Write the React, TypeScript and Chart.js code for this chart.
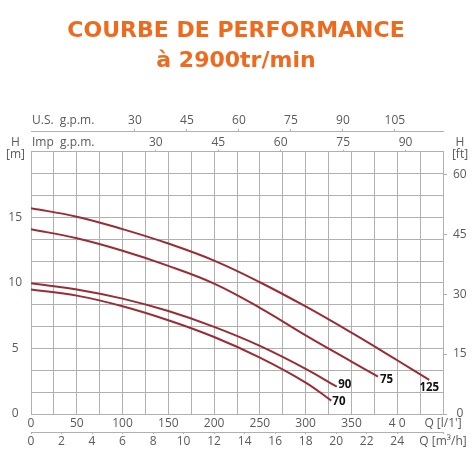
import React, { useEffect, useRef } from 'react';
import { Chart, registerables } from 'chart.js';

Chart.register(...registerables);

// Pump curves: flow in l/min, head in m
const flow125 = [0, 50, 100, 150, 200, 250, 300, 350, 400, 435];
const head125 = [15.7, 15.05, 14.1, 13.0, 11.7, 10.05, 8.2, 6.2, 4.1, 2.6];
const flow75 = [0, 50, 100, 150, 200, 250, 300, 350, 379];
const head75 = [14.1, 13.4, 12.45, 11.3, 9.95, 8.1, 6.0, 4.0, 2.85];
const flow90 = [0, 50, 100, 150, 200, 250, 300, 334];
const head90 = [9.97, 9.5, 8.8, 7.85, 6.65, 5.2, 3.45, 2.08];
const flow70 = [0, 50, 100, 150, 200, 250, 300, 328];
const head70 = [9.5, 9.03, 8.22, 7.15, 5.87, 4.3, 2.4, 1.02];
const curveNames = ['125', '75', '90', '70'];

// Axis ticks
const lpmTicks = [0, 50, 100, 150, 200, 250, 300, 350, 400, 450];
const lpmLabels = ['0', '50', '100', '150', '200', '250', '300', '350', '4 0', "Q [l/1']"];
const m3hTicks = [0, 2, 4, 6, 8, 10, 12, 14, 16, 18, 20, 22, 24, 27];
const m3hLabels = ['0', '2', '4', '6', '8', '10', '12', '14', '16', '18', '20', '22', '24', 'Q [m\u00B3/h]'];
const usGpmTicks = [30, 45, 60, 75, 90, 105];
const impGpmTicks = [30, 45, 60, 75, 90];
const headMTicks = [0, 5, 10, 15];
const headFtTicks = [0, 15, 30, 45, 60];

const Q_MAX = 450; // l/min
const H_MAX = 20; // m
const US_GAL = 3.785;
const IMP_GAL = 4.546;
const LPM_PER_M3H = 1000 / 60;
const M_TO_FT = 3.28084;

const LINE = '#9b2c33';
const GRID = '#b0b0b0';
const TEXT = '#5a5a5a';
const FONT = { family: '"Open Sans", "DejaVu Sans", sans-serif', size: 12 };

const toPoints = (q: number[], h: number[]) => q.map((v, i) => ({ x: v, y: h[i] }));

// label placement relative to the end of each curve: dx, dy, align
const nameOffsets: [number, number, CanvasTextAlign][] = [
  [0, 8, 'center'],
  [2, 3.5, 'left'],
  [1.5, -2, 'left'],
  [1, 1.5, 'left'],
];

const captionsPlugin = {
  id: 'captions',
  afterDraw(chart: any) {
    const ctx = chart.ctx as CanvasRenderingContext2D;
    const { us, imp, y, y2 } = chart.scales;
    ctx.save();
    ctx.fillStyle = TEXT;
    ctx.font = '12px "Open Sans", "DejaVu Sans", sans-serif';
    ctx.textBaseline = 'middle';
    ctx.textAlign = 'left';
    ctx.fillText('U.S.  g.p.m.', us.left + 1, us.bottom - 4 - 7.2);
    ctx.fillText('Imp  g.p.m.', imp.left + 1, imp.bottom - 2 - 7.2);
    ctx.textAlign = 'center';
    ctx.fillText('H', y.right - 15.5, y.top - 9.5);
    ctx.fillText('[m]', y.right - 15.5, y.top + 2.5);
    ctx.fillText('H', y2.left + 17, y2.top - 9.5);
    ctx.fillText('[ft]', y2.left + 17, y2.top + 2.5);

    ctx.fillStyle = '#111';
    ctx.font = 'bold 11.5px "Open Sans", "Liberation Sans", sans-serif';
    chart.data.datasets.forEach((_: any, i: number) => {
      const pts = chart.getDatasetMeta(i).data;
      const last = pts[pts.length - 1];
      const [dx, dy, align] = nameOffsets[i];
      ctx.textAlign = align;
      ctx.fillText(curveNames[i], last.x + dx, last.y + dy);
    });
    ctx.restore();
  },
};

const setTicks = (values: number[]) => (scale: any) => {
  scale.ticks = values.map((v) => ({ value: v }));
};

const near = (list: number[], v: number) => list.findIndex((t) => Math.abs(t - v) < 1e-6);

export default function App() {
  const canvasRef = useRef<HTMLCanvasElement | null>(null);

  useEffect(() => {
    if (!canvasRef.current) return;

    const qGrid = Array.from({ length: 19 }, (_, i) => i * 25);
    const hGrid = Array.from({ length: 13 }, (_, i) => (i * H_MAX) / 12);

    const curve = (q: number[], h: number[]) => ({
      data: toPoints(q, h),
      borderColor: LINE,
      borderWidth: 2,
      pointRadius: 0,
      fill: false,
      tension: 0.4,
    });

    const chart = new Chart(canvasRef.current, {
      type: 'line',
      data: {
        datasets: [
          curve(flow125, head125),
          curve(flow75, head75),
          curve(flow90, head90),
          curve(flow70, head70),
        ],
      },
      options: {
        animation: false,
        responsive: true,
        maintainAspectRatio: false,
        layout: { padding: 0 },
        plugins: {
          legend: { display: false },
          tooltip: { enabled: false },
          title: {
            display: true,
            text: ['COURBE DE PERFORMANCE', '\u00E0 2900tr/min'],
            color: '#f06a1e',
            font: { family: '"DejaVu Sans", sans-serif', size: 22, weight: 'bold', lineHeight: 1.336 },
            padding: { top: 17, bottom: 36 },
          },
        },
        scales: {
          x: {
            type: 'linear',
            position: 'bottom',
            min: 0,
            max: Q_MAX,
            afterBuildTicks: setTicks(qGrid),
            afterFit: (s: any) => { s.height = 18; },
            grid: { color: GRID, drawTicks: false },
            border: { display: true, color: GRID },
            ticks: {
              autoSkip: false,
              maxRotation: 0,
              padding: 2,
              color: TEXT,
              font: FONT,
              callback: (v: any) => {
                const i = near(lpmTicks, Number(v));
                return i >= 0 ? lpmLabels[i] : '';
              },
            },
          },
          m3h: {
            type: 'linear',
            position: 'bottom',
            min: 0,
            max: Q_MAX / LPM_PER_M3H,
            afterBuildTicks: setTicks(m3hTicks),
            afterFit: (s: any) => { s.height = 40; },
            grid: { drawOnChartArea: false, drawTicks: true, tickLength: 2, color: GRID },
            border: { display: true, color: GRID },
            ticks: {
              autoSkip: false,
              maxRotation: 0,
              padding: 0,
              color: TEXT,
              font: FONT,
              callback: (v: any) => {
                const i = near(m3hTicks, Number(v));
                return i >= 0 ? m3hLabels[i] : '';
              },
            },
          },
          imp: {
            type: 'linear',
            position: 'top',
            min: 0,
            max: Q_MAX / IMP_GAL,
            afterBuildTicks: setTicks(impGpmTicks),
            afterFit: (s: any) => { s.height = 20; },
            grid: { drawOnChartArea: false, drawTicks: true, tickLength: 2, color: GRID },
            border: { display: true, color: GRID },
            ticks: { autoSkip: false, maxRotation: 0, padding: 0, color: TEXT, font: FONT },
          },
          us: {
            type: 'linear',
            position: 'top',
            min: 0,
            max: Q_MAX / US_GAL,
            afterBuildTicks: setTicks(usGpmTicks),
            afterFit: (s: any) => { s.height = 20; },
            grid: { drawOnChartArea: false, drawTicks: true, tickLength: 3, color: GRID },
            border: { display: true, color: GRID },
            ticks: { autoSkip: false, maxRotation: 0, padding: 1, color: TEXT, font: FONT },
          },
          y: {
            type: 'linear',
            position: 'left',
            min: 0,
            max: H_MAX,
            afterBuildTicks: setTicks(hGrid),
            afterFit: (s: any) => { s.width = 31; },
            grid: { color: GRID, drawTicks: false },
            border: { display: true, color: GRID },
            ticks: {
              crossAlign: 'center',
              padding: 9,
              color: TEXT,
              font: FONT,
              callback: (v: any) => {
                const i = near(headMTicks, Number(v));
                return i >= 0 ? String(headMTicks[i]) : '';
              },
            },
          },
          y2: {
            type: 'linear',
            position: 'right',
            min: 0,
            max: H_MAX * M_TO_FT,
            afterBuildTicks: setTicks(headFtTicks),
            afterFit: (s: any) => { s.width = 29; },
            grid: { drawOnChartArea: false, drawTicks: true, tickLength: 4, color: GRID },
            border: { display: true, color: GRID },
            ticks: { crossAlign: 'center', padding: 6, color: TEXT, font: FONT },
          },
        },
      } as any,
      plugins: [captionsPlugin],
    });

    return () => chart.destroy();
  }, []);

  return (
    <div style={{ position: 'fixed', left: 0, top: 0, width: 472, height: 472, background: '#fff' }}>
      <canvas ref={canvasRef} />
    </div>
  );
}
